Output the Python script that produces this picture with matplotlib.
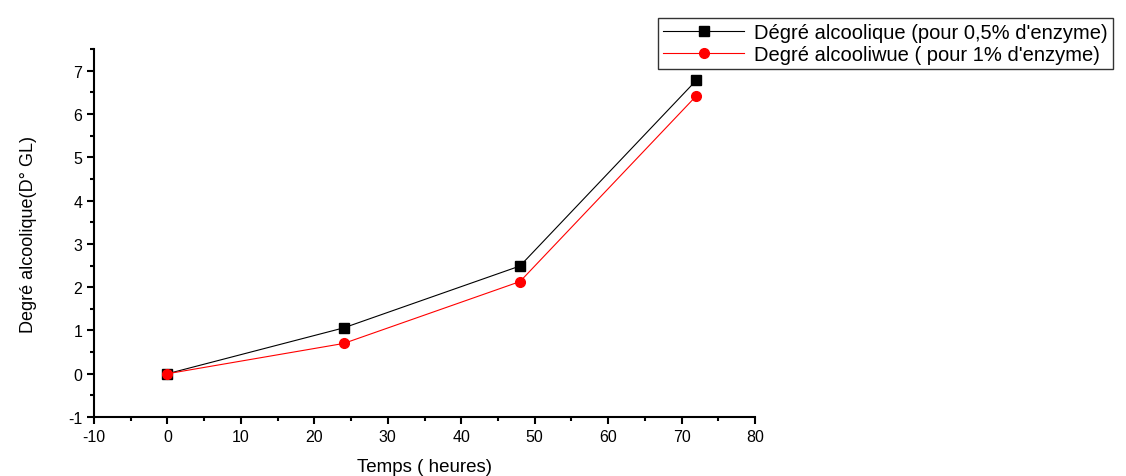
import matplotlib
matplotlib.use("Agg")
import matplotlib.pyplot as plt
from matplotlib.ticker import MultipleLocator

temps = [0, 24, 48, 72]
degre_05 = [0.0, 1.06, 2.49, 6.78]
degre_1 = [0.0, 0.70, 2.13, 6.42]

plt.rcParams['font.family'] = ['Liberation Sans', 'DejaVu Sans']
plt.rcParams['axes.unicode_minus'] = False

fig = plt.figure(figsize=(11.26, 4.77), dpi=100)
ax = fig.add_axes([0.0835, 0.1237, 0.587, 0.771])

ax.plot(temps, degre_05, color='black', lw=0.8, marker='s', ms=7,
        label="Dégré alcoolique (pour 0,5% d'enzyme)")
ax.plot(temps, degre_1, color='red', lw=0.8, marker='o', ms=7,
        label="Degré alcooliwue ( pour 1% d'enzyme)")

ax.set_xlim(-10, 80)
ax.set_ylim(-1, 7.5)
ax.xaxis.set_major_locator(MultipleLocator(10))
ax.xaxis.set_minor_locator(MultipleLocator(5))
ax.yaxis.set_major_locator(MultipleLocator(1))
ax.yaxis.set_minor_locator(MultipleLocator(0.5))
ax.spines['top'].set_visible(False)
ax.spines['right'].set_visible(False)
ax.spines['left'].set_linewidth(1.5)
ax.spines['bottom'].set_linewidth(1.5)
ax.tick_params(which='major', direction='out', length=5, width=1.5, labelsize=11.5)
ax.tick_params(which='minor', direction='out', length=3, width=1.5)

ax.set_xlabel('Temps ( heures)', fontsize=13.5, labelpad=10)
ax.set_ylabel('Degré alcoolique(D° GL)', fontsize=13, labelpad=22)

leg = fig.legend(loc='upper right', bbox_to_anchor=(0.997, 0.982), fontsize=14.5,
                 frameon=True, fancybox=False, edgecolor='black',
                 handlelength=4.0, borderpad=0.25, labelspacing=0.15, handletextpad=0.5)
leg.get_frame().set_linewidth(1.0)

fig.savefig('out.png', dpi=100)
